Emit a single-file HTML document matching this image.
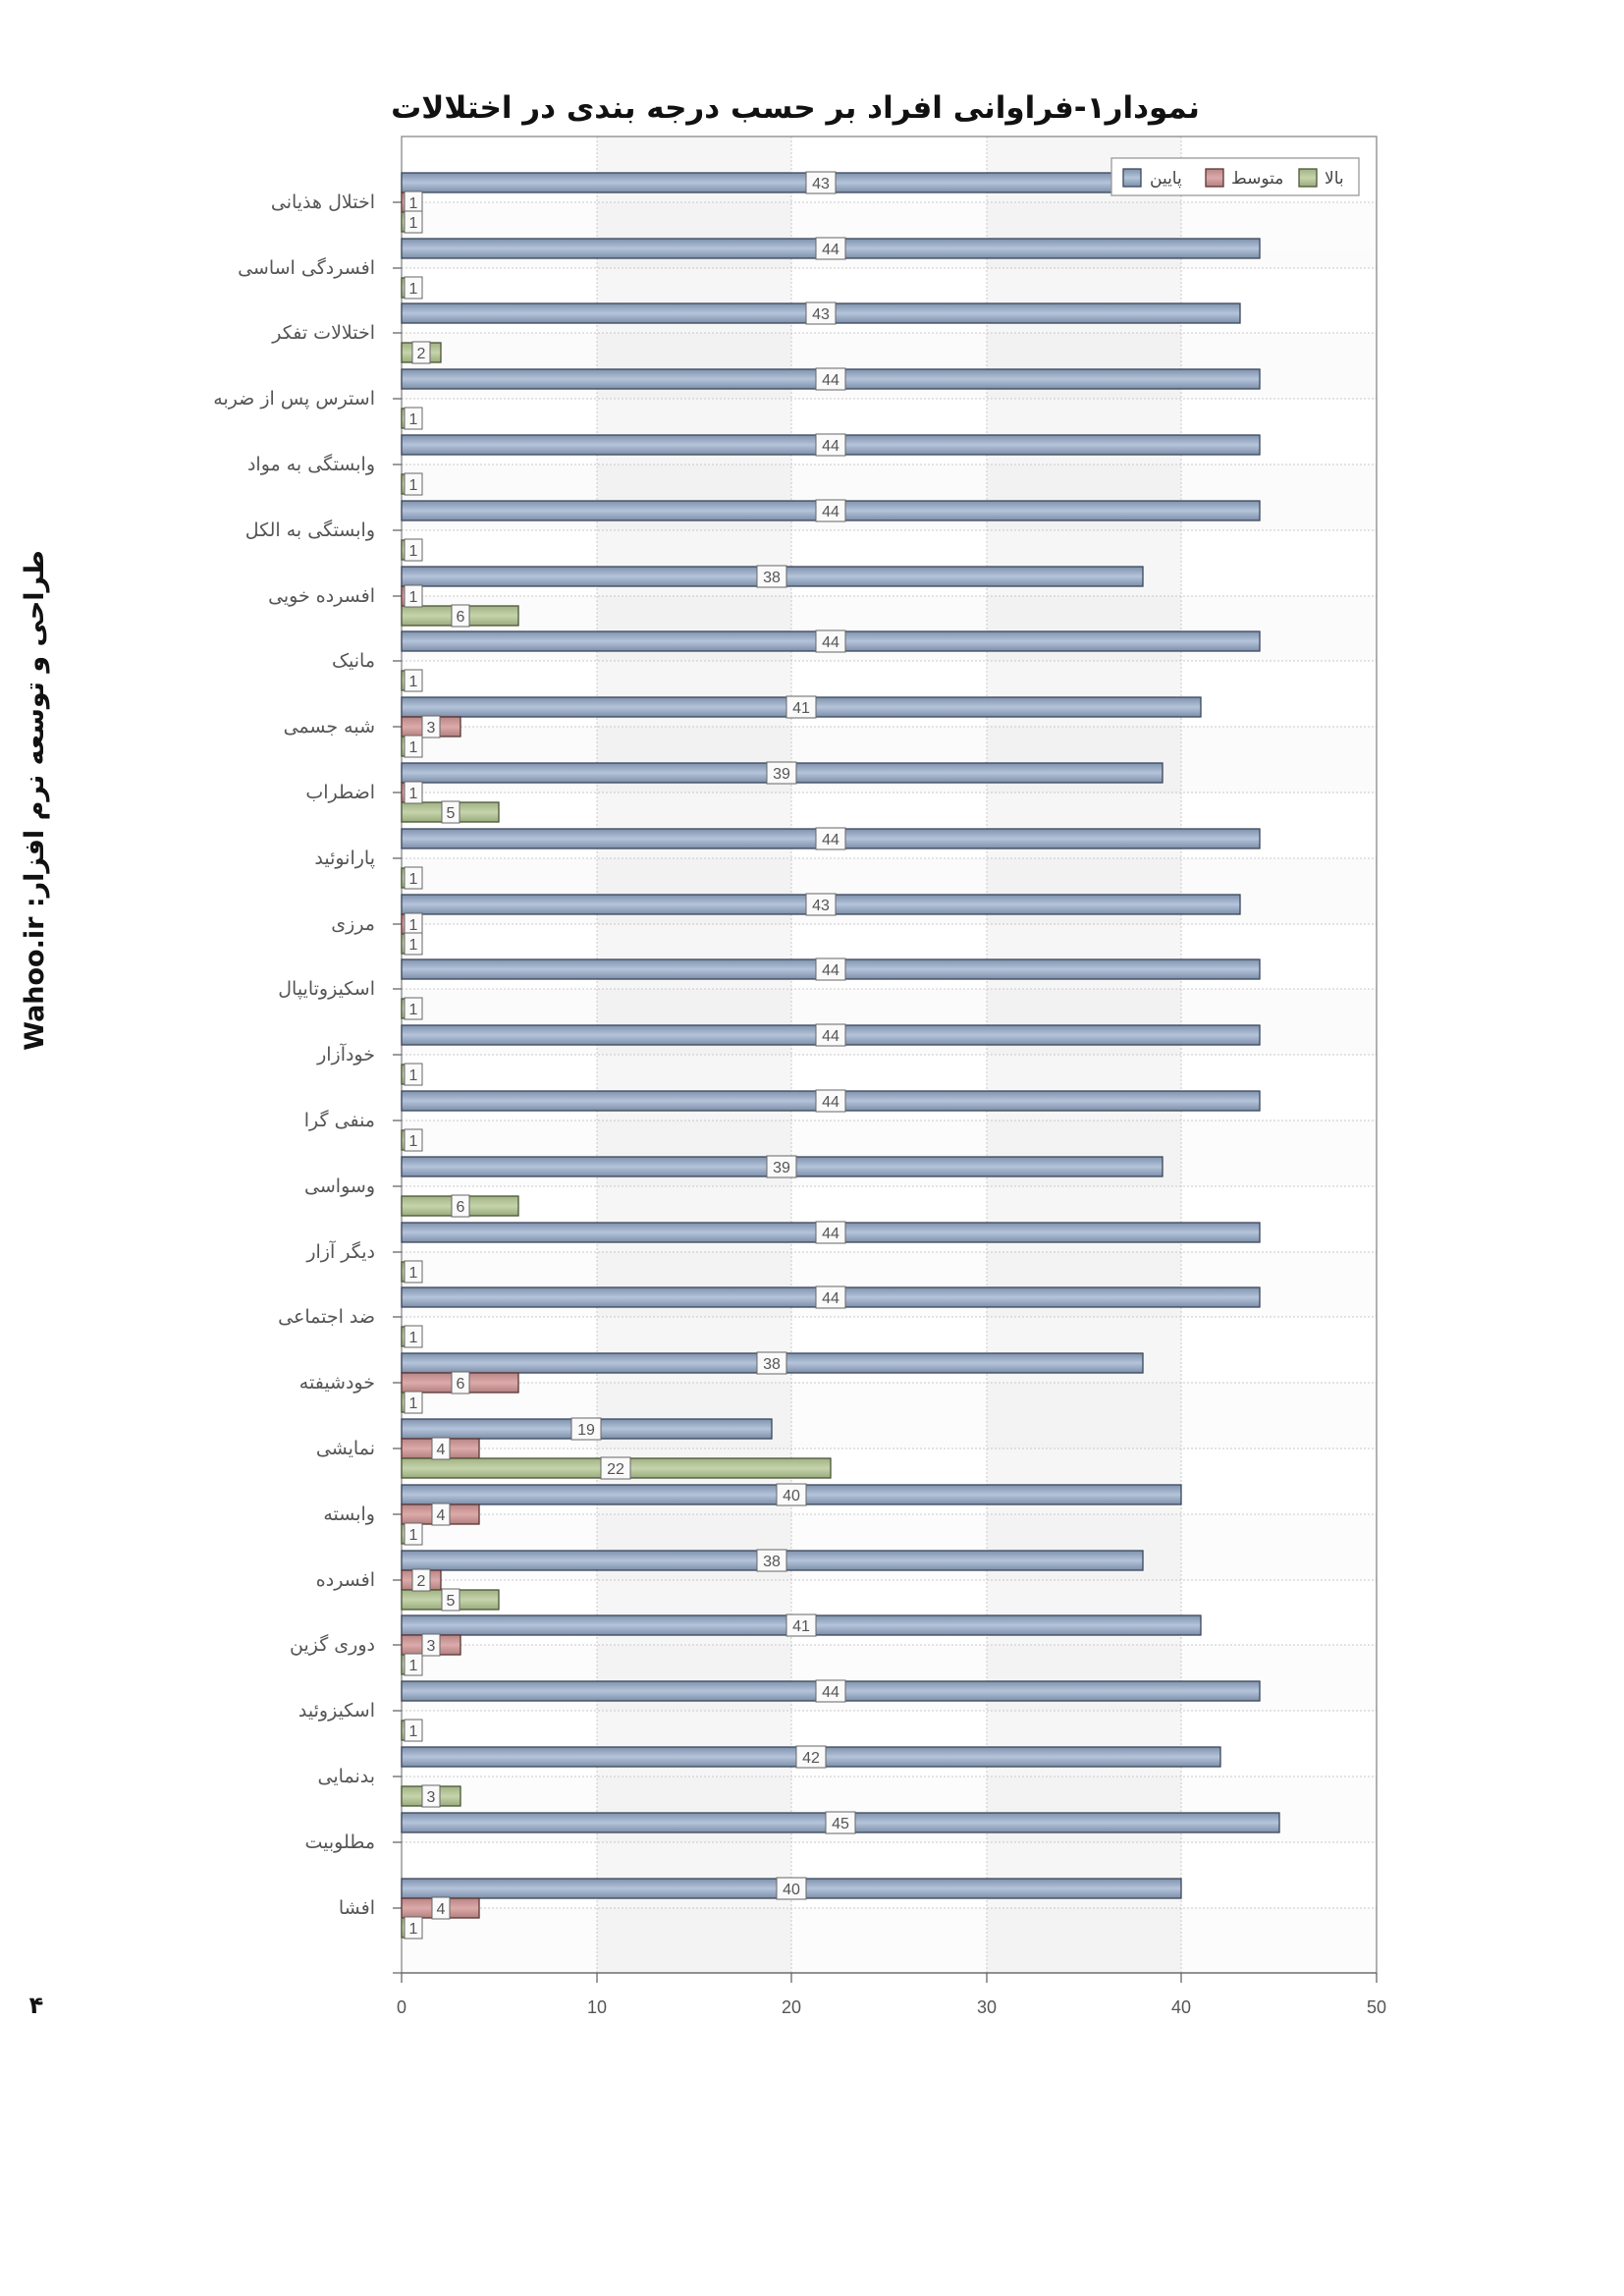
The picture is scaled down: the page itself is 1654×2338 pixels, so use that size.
<!DOCTYPE html>
<html><head><meta charset="utf-8"><style>
html,body{margin:0;padding:0;background:#fff;}
svg{display:block;}
.cat{font-family:"DejaVu Sans",sans-serif;font-size:19px;fill:#555;text-anchor:end;}
.b{fill:url(#gb);stroke:#3b475a;stroke-width:1.3;}
.r{fill:url(#gr);stroke:#5a3535;stroke-width:1.3;}
.g{fill:url(#gg);stroke:#4a5535;stroke-width:1.3;}
.lb rect{fill:#fafafa;stroke:#666;stroke-width:1;}
.lb text{font-family:"Liberation Sans",sans-serif;font-size:16px;fill:#555;text-anchor:middle;}
.ax{font-family:"Liberation Sans",sans-serif;font-size:18px;fill:#555;text-anchor:middle;}
</style></head><body>
<svg width="1654" height="2338" xmlns="http://www.w3.org/2000/svg">
<defs>
<linearGradient id="gb" x1="0" y1="0" x2="0" y2="1"><stop offset="0" stop-color="#7f91ad"/><stop offset="0.5" stop-color="#b4c4da"/><stop offset="1" stop-color="#7d8ea9"/></linearGradient>
<linearGradient id="gr" x1="0" y1="0" x2="0" y2="1"><stop offset="0" stop-color="#b98585"/><stop offset="0.5" stop-color="#dcaaaa"/><stop offset="1" stop-color="#b38080"/></linearGradient>
<linearGradient id="gg" x1="0" y1="0" x2="0" y2="1"><stop offset="0" stop-color="#a0b183"/><stop offset="0.5" stop-color="#c6d4ab"/><stop offset="1" stop-color="#9aab7e"/></linearGradient>
</defs>
<text x="810" y="120" font-family="DejaVu Sans,sans-serif" font-size="31" font-weight="bold" text-anchor="middle" fill="#111">نمودار۱-فراوانی افراد بر حسب درجه بندی در اختلالات</text>
<text transform="translate(44,815) rotate(-90)" direction="rtl" font-family="DejaVu Sans,Liberation Sans,sans-serif" font-size="27" font-weight="bold" text-anchor="middle" fill="#111">طراحی و توسعه نرم افزار: Wahoo.ir</text>
<text x="37" y="2050" font-family="DejaVu Sans,sans-serif" font-size="24" font-weight="bold" text-anchor="middle" fill="#111">۴</text>
<rect x="409" y="139" width="993" height="1870" fill="#fff"/>
<rect x="608" y="139" width="198" height="1870" fill="#f6f6f6"/>
<rect x="1005" y="139" width="198" height="1870" fill="#f6f6f6"/>
<g fill="#000" opacity="0.012">
<rect x="409" y="206" width="993" height="67"/><rect x="409" y="339" width="993" height="67"/><rect x="409" y="473" width="993" height="67"/><rect x="409" y="607" width="993" height="66"/><rect x="409" y="740" width="993" height="67"/><rect x="409" y="874" width="993" height="67"/><rect x="409" y="1007" width="993" height="67"/><rect x="409" y="1141" width="993" height="67"/><rect x="409" y="1275" width="993" height="66"/><rect x="409" y="1408" width="993" height="67"/><rect x="409" y="1542" width="993" height="67"/><rect x="409" y="1675" width="993" height="67"/><rect x="409" y="1809" width="993" height="67"/><rect x="409" y="1943" width="993" height="66"/>
</g>
<g stroke="#c8c8c8" stroke-width="1" stroke-dasharray="2,2">
<line x1="608" y1="139" x2="608" y2="2009"/><line x1="806" y1="139" x2="806" y2="2009"/><line x1="1005" y1="139" x2="1005" y2="2009"/><line x1="1203" y1="139" x2="1203" y2="2009"/>
<line x1="409" y1="206" x2="1402" y2="206"/><line x1="409" y1="273" x2="1402" y2="273"/><line x1="409" y1="339" x2="1402" y2="339"/><line x1="409" y1="406" x2="1402" y2="406"/><line x1="409" y1="473" x2="1402" y2="473"/><line x1="409" y1="540" x2="1402" y2="540"/><line x1="409" y1="607" x2="1402" y2="607"/><line x1="409" y1="673" x2="1402" y2="673"/><line x1="409" y1="740" x2="1402" y2="740"/><line x1="409" y1="807" x2="1402" y2="807"/><line x1="409" y1="874" x2="1402" y2="874"/><line x1="409" y1="941" x2="1402" y2="941"/><line x1="409" y1="1007" x2="1402" y2="1007"/><line x1="409" y1="1074" x2="1402" y2="1074"/><line x1="409" y1="1141" x2="1402" y2="1141"/><line x1="409" y1="1208" x2="1402" y2="1208"/><line x1="409" y1="1275" x2="1402" y2="1275"/><line x1="409" y1="1341" x2="1402" y2="1341"/><line x1="409" y1="1408" x2="1402" y2="1408"/><line x1="409" y1="1475" x2="1402" y2="1475"/><line x1="409" y1="1542" x2="1402" y2="1542"/><line x1="409" y1="1609" x2="1402" y2="1609"/><line x1="409" y1="1675" x2="1402" y2="1675"/><line x1="409" y1="1742" x2="1402" y2="1742"/><line x1="409" y1="1809" x2="1402" y2="1809"/><line x1="409" y1="1876" x2="1402" y2="1876"/><line x1="409" y1="1943" x2="1402" y2="1943"/>
</g>
<rect x="409" y="139" width="993" height="1870" fill="none" stroke="#888" stroke-width="1.3"/>
<g stroke="#666" stroke-width="1.3">
<line x1="400" y1="206" x2="409" y2="206"/><line x1="400" y1="273" x2="409" y2="273"/><line x1="400" y1="339" x2="409" y2="339"/><line x1="400" y1="406" x2="409" y2="406"/><line x1="400" y1="473" x2="409" y2="473"/><line x1="400" y1="540" x2="409" y2="540"/><line x1="400" y1="607" x2="409" y2="607"/><line x1="400" y1="673" x2="409" y2="673"/><line x1="400" y1="740" x2="409" y2="740"/><line x1="400" y1="807" x2="409" y2="807"/><line x1="400" y1="874" x2="409" y2="874"/><line x1="400" y1="941" x2="409" y2="941"/><line x1="400" y1="1007" x2="409" y2="1007"/><line x1="400" y1="1074" x2="409" y2="1074"/><line x1="400" y1="1141" x2="409" y2="1141"/><line x1="400" y1="1208" x2="409" y2="1208"/><line x1="400" y1="1275" x2="409" y2="1275"/><line x1="400" y1="1341" x2="409" y2="1341"/><line x1="400" y1="1408" x2="409" y2="1408"/><line x1="400" y1="1475" x2="409" y2="1475"/><line x1="400" y1="1542" x2="409" y2="1542"/><line x1="400" y1="1609" x2="409" y2="1609"/><line x1="400" y1="1675" x2="409" y2="1675"/><line x1="400" y1="1742" x2="409" y2="1742"/><line x1="400" y1="1809" x2="409" y2="1809"/><line x1="400" y1="1876" x2="409" y2="1876"/><line x1="400" y1="1943" x2="409" y2="1943"/>
<line x1="400" y1="2009" x2="1402" y2="2009"/>
<line x1="409" y1="2009" x2="409" y2="2019"/><line x1="608" y1="2009" x2="608" y2="2019"/><line x1="806" y1="2009" x2="806" y2="2019"/><line x1="1005" y1="2009" x2="1005" y2="2019"/><line x1="1203" y1="2009" x2="1203" y2="2019"/><line x1="1402" y1="2009" x2="1402" y2="2019"/>
</g>
<text class="ax" x="409" y="2050">0</text><text class="ax" x="608" y="2050">10</text><text class="ax" x="806" y="2050">20</text><text class="ax" x="1005" y="2050">30</text><text class="ax" x="1203" y="2050">40</text><text class="ax" x="1402" y="2050">50</text>

<g class="cat">
<text x="382" y="212">اختلال هذیانی</text>
<text x="382" y="279">افسردگی اساسی</text>
<text x="382" y="345">اختلالات تفکر</text>
<text x="382" y="412">استرس پس از ضربه</text>
<text x="382" y="479">وابستگی به مواد</text>
<text x="382" y="546">وابستگی به الکل</text>
<text x="382" y="613">افسرده خویی</text>
<text x="382" y="679">مانیک</text>
<text x="382" y="746">شبه جسمی</text>
<text x="382" y="813">اضطراب</text>
<text x="382" y="880">پارانوئید</text>
<text x="382" y="947">مرزی</text>
<text x="382" y="1013">اسکیزوتایپال</text>
<text x="382" y="1080">خودآزار</text>
<text x="382" y="1147">منفی گرا</text>
<text x="382" y="1214">وسواسی</text>
<text x="382" y="1281">دیگر آزار</text>
<text x="382" y="1347">ضد اجتماعی</text>
<text x="382" y="1414">خودشیفته</text>
<text x="382" y="1481">نمایشی</text>
<text x="382" y="1548">وابسته</text>
<text x="382" y="1615">افسرده</text>
<text x="382" y="1681">دوری گزین</text>
<text x="382" y="1748">اسکیزوئید</text>
<text x="382" y="1815">بدنمایی</text>
<text x="382" y="1882">مطلوبیت</text>
<text x="382" y="1949">افشا</text>
</g>

<g transform="translate(0,206)"><rect class="b" x="409" y="-30" width="854" height="20"/><rect class="r" x="409" y="-10" width="20" height="20"/><rect class="g" x="409" y="10" width="20" height="20"/>
<g class="lb" transform="translate(836,-20)"><rect x="-15" y="-11" width="30" height="22"/><text y="6">43</text></g>
<g class="lb" transform="translate(421,0)"><rect x="-9" y="-11" width="18" height="22"/><text y="6">1</text></g>
<g class="lb" transform="translate(421,20)"><rect x="-9" y="-11" width="18" height="22"/><text y="6">1</text></g></g>
<g transform="translate(0,273)"><rect class="b" x="409" y="-30" width="874" height="20"/><rect class="g" x="409" y="10" width="20" height="20"/>
<g class="lb" transform="translate(846,-20)"><rect x="-15" y="-11" width="30" height="22"/><text y="6">44</text></g>
<g class="lb" transform="translate(421,20)"><rect x="-9" y="-11" width="18" height="22"/><text y="6">1</text></g></g>
<g transform="translate(0,339)"><rect class="b" x="409" y="-30" width="854" height="20"/><rect class="g" x="409" y="10" width="40" height="20"/>
<g class="lb" transform="translate(836,-20)"><rect x="-15" y="-11" width="30" height="22"/><text y="6">43</text></g>
<g class="lb" transform="translate(429,20)"><rect x="-9" y="-11" width="18" height="22"/><text y="6">2</text></g></g>
<g transform="translate(0,406)"><rect class="b" x="409" y="-30" width="874" height="20"/><rect class="g" x="409" y="10" width="20" height="20"/>
<g class="lb" transform="translate(846,-20)"><rect x="-15" y="-11" width="30" height="22"/><text y="6">44</text></g>
<g class="lb" transform="translate(421,20)"><rect x="-9" y="-11" width="18" height="22"/><text y="6">1</text></g></g>
<g transform="translate(0,473)"><rect class="b" x="409" y="-30" width="874" height="20"/><rect class="g" x="409" y="10" width="20" height="20"/>
<g class="lb" transform="translate(846,-20)"><rect x="-15" y="-11" width="30" height="22"/><text y="6">44</text></g>
<g class="lb" transform="translate(421,20)"><rect x="-9" y="-11" width="18" height="22"/><text y="6">1</text></g></g>
<g transform="translate(0,540)"><rect class="b" x="409" y="-30" width="874" height="20"/><rect class="g" x="409" y="10" width="20" height="20"/>
<g class="lb" transform="translate(846,-20)"><rect x="-15" y="-11" width="30" height="22"/><text y="6">44</text></g>
<g class="lb" transform="translate(421,20)"><rect x="-9" y="-11" width="18" height="22"/><text y="6">1</text></g></g>
<g transform="translate(0,607)"><rect class="b" x="409" y="-30" width="755" height="20"/><rect class="r" x="409" y="-10" width="20" height="20"/><rect class="g" x="409" y="10" width="119" height="20"/>
<g class="lb" transform="translate(786,-20)"><rect x="-15" y="-11" width="30" height="22"/><text y="6">38</text></g>
<g class="lb" transform="translate(421,0)"><rect x="-9" y="-11" width="18" height="22"/><text y="6">1</text></g>
<g class="lb" transform="translate(469,20)"><rect x="-9" y="-11" width="18" height="22"/><text y="6">6</text></g></g>
<g transform="translate(0,673)"><rect class="b" x="409" y="-30" width="874" height="20"/><rect class="g" x="409" y="10" width="20" height="20"/>
<g class="lb" transform="translate(846,-20)"><rect x="-15" y="-11" width="30" height="22"/><text y="6">44</text></g>
<g class="lb" transform="translate(421,20)"><rect x="-9" y="-11" width="18" height="22"/><text y="6">1</text></g></g>
<g transform="translate(0,740)"><rect class="b" x="409" y="-30" width="814" height="20"/><rect class="r" x="409" y="-10" width="60" height="20"/><rect class="g" x="409" y="10" width="20" height="20"/>
<g class="lb" transform="translate(816,-20)"><rect x="-15" y="-11" width="30" height="22"/><text y="6">41</text></g>
<g class="lb" transform="translate(439,0)"><rect x="-9" y="-11" width="18" height="22"/><text y="6">3</text></g>
<g class="lb" transform="translate(421,20)"><rect x="-9" y="-11" width="18" height="22"/><text y="6">1</text></g></g>
<g transform="translate(0,807)"><rect class="b" x="409" y="-30" width="775" height="20"/><rect class="r" x="409" y="-10" width="20" height="20"/><rect class="g" x="409" y="10" width="99" height="20"/>
<g class="lb" transform="translate(796,-20)"><rect x="-15" y="-11" width="30" height="22"/><text y="6">39</text></g>
<g class="lb" transform="translate(421,0)"><rect x="-9" y="-11" width="18" height="22"/><text y="6">1</text></g>
<g class="lb" transform="translate(459,20)"><rect x="-9" y="-11" width="18" height="22"/><text y="6">5</text></g></g>
<g transform="translate(0,874)"><rect class="b" x="409" y="-30" width="874" height="20"/><rect class="g" x="409" y="10" width="20" height="20"/>
<g class="lb" transform="translate(846,-20)"><rect x="-15" y="-11" width="30" height="22"/><text y="6">44</text></g>
<g class="lb" transform="translate(421,20)"><rect x="-9" y="-11" width="18" height="22"/><text y="6">1</text></g></g>
<g transform="translate(0,941)"><rect class="b" x="409" y="-30" width="854" height="20"/><rect class="r" x="409" y="-10" width="20" height="20"/><rect class="g" x="409" y="10" width="20" height="20"/>
<g class="lb" transform="translate(836,-20)"><rect x="-15" y="-11" width="30" height="22"/><text y="6">43</text></g>
<g class="lb" transform="translate(421,0)"><rect x="-9" y="-11" width="18" height="22"/><text y="6">1</text></g>
<g class="lb" transform="translate(421,20)"><rect x="-9" y="-11" width="18" height="22"/><text y="6">1</text></g></g>
<g transform="translate(0,1007)"><rect class="b" x="409" y="-30" width="874" height="20"/><rect class="g" x="409" y="10" width="20" height="20"/>
<g class="lb" transform="translate(846,-20)"><rect x="-15" y="-11" width="30" height="22"/><text y="6">44</text></g>
<g class="lb" transform="translate(421,20)"><rect x="-9" y="-11" width="18" height="22"/><text y="6">1</text></g></g>
<g transform="translate(0,1074)"><rect class="b" x="409" y="-30" width="874" height="20"/><rect class="g" x="409" y="10" width="20" height="20"/>
<g class="lb" transform="translate(846,-20)"><rect x="-15" y="-11" width="30" height="22"/><text y="6">44</text></g>
<g class="lb" transform="translate(421,20)"><rect x="-9" y="-11" width="18" height="22"/><text y="6">1</text></g></g>
<g transform="translate(0,1141)"><rect class="b" x="409" y="-30" width="874" height="20"/><rect class="g" x="409" y="10" width="20" height="20"/>
<g class="lb" transform="translate(846,-20)"><rect x="-15" y="-11" width="30" height="22"/><text y="6">44</text></g>
<g class="lb" transform="translate(421,20)"><rect x="-9" y="-11" width="18" height="22"/><text y="6">1</text></g></g>
<g transform="translate(0,1208)"><rect class="b" x="409" y="-30" width="775" height="20"/><rect class="g" x="409" y="10" width="119" height="20"/>
<g class="lb" transform="translate(796,-20)"><rect x="-15" y="-11" width="30" height="22"/><text y="6">39</text></g>
<g class="lb" transform="translate(469,20)"><rect x="-9" y="-11" width="18" height="22"/><text y="6">6</text></g></g>
<g transform="translate(0,1275)"><rect class="b" x="409" y="-30" width="874" height="20"/><rect class="g" x="409" y="10" width="20" height="20"/>
<g class="lb" transform="translate(846,-20)"><rect x="-15" y="-11" width="30" height="22"/><text y="6">44</text></g>
<g class="lb" transform="translate(421,20)"><rect x="-9" y="-11" width="18" height="22"/><text y="6">1</text></g></g>
<g transform="translate(0,1341)"><rect class="b" x="409" y="-30" width="874" height="20"/><rect class="g" x="409" y="10" width="20" height="20"/>
<g class="lb" transform="translate(846,-20)"><rect x="-15" y="-11" width="30" height="22"/><text y="6">44</text></g>
<g class="lb" transform="translate(421,20)"><rect x="-9" y="-11" width="18" height="22"/><text y="6">1</text></g></g>
<g transform="translate(0,1408)"><rect class="b" x="409" y="-30" width="755" height="20"/><rect class="r" x="409" y="-10" width="119" height="20"/><rect class="g" x="409" y="10" width="20" height="20"/>
<g class="lb" transform="translate(786,-20)"><rect x="-15" y="-11" width="30" height="22"/><text y="6">38</text></g>
<g class="lb" transform="translate(469,0)"><rect x="-9" y="-11" width="18" height="22"/><text y="6">6</text></g>
<g class="lb" transform="translate(421,20)"><rect x="-9" y="-11" width="18" height="22"/><text y="6">1</text></g></g>
<g transform="translate(0,1475)"><rect class="b" x="409" y="-30" width="377" height="20"/><rect class="r" x="409" y="-10" width="79" height="20"/><rect class="g" x="409" y="10" width="437" height="20"/>
<g class="lb" transform="translate(597,-20)"><rect x="-15" y="-11" width="30" height="22"/><text y="6">19</text></g>
<g class="lb" transform="translate(449,0)"><rect x="-9" y="-11" width="18" height="22"/><text y="6">4</text></g>
<g class="lb" transform="translate(627,20)"><rect x="-15" y="-11" width="30" height="22"/><text y="6">22</text></g></g>
<g transform="translate(0,1542)"><rect class="b" x="409" y="-30" width="794" height="20"/><rect class="r" x="409" y="-10" width="79" height="20"/><rect class="g" x="409" y="10" width="20" height="20"/>
<g class="lb" transform="translate(806,-20)"><rect x="-15" y="-11" width="30" height="22"/><text y="6">40</text></g>
<g class="lb" transform="translate(449,0)"><rect x="-9" y="-11" width="18" height="22"/><text y="6">4</text></g>
<g class="lb" transform="translate(421,20)"><rect x="-9" y="-11" width="18" height="22"/><text y="6">1</text></g></g>
<g transform="translate(0,1609)"><rect class="b" x="409" y="-30" width="755" height="20"/><rect class="r" x="409" y="-10" width="40" height="20"/><rect class="g" x="409" y="10" width="99" height="20"/>
<g class="lb" transform="translate(786,-20)"><rect x="-15" y="-11" width="30" height="22"/><text y="6">38</text></g>
<g class="lb" transform="translate(429,0)"><rect x="-9" y="-11" width="18" height="22"/><text y="6">2</text></g>
<g class="lb" transform="translate(459,20)"><rect x="-9" y="-11" width="18" height="22"/><text y="6">5</text></g></g>
<g transform="translate(0,1675)"><rect class="b" x="409" y="-30" width="814" height="20"/><rect class="r" x="409" y="-10" width="60" height="20"/><rect class="g" x="409" y="10" width="20" height="20"/>
<g class="lb" transform="translate(816,-20)"><rect x="-15" y="-11" width="30" height="22"/><text y="6">41</text></g>
<g class="lb" transform="translate(439,0)"><rect x="-9" y="-11" width="18" height="22"/><text y="6">3</text></g>
<g class="lb" transform="translate(421,20)"><rect x="-9" y="-11" width="18" height="22"/><text y="6">1</text></g></g>
<g transform="translate(0,1742)"><rect class="b" x="409" y="-30" width="874" height="20"/><rect class="g" x="409" y="10" width="20" height="20"/>
<g class="lb" transform="translate(846,-20)"><rect x="-15" y="-11" width="30" height="22"/><text y="6">44</text></g>
<g class="lb" transform="translate(421,20)"><rect x="-9" y="-11" width="18" height="22"/><text y="6">1</text></g></g>
<g transform="translate(0,1809)"><rect class="b" x="409" y="-30" width="834" height="20"/><rect class="g" x="409" y="10" width="60" height="20"/>
<g class="lb" transform="translate(826,-20)"><rect x="-15" y="-11" width="30" height="22"/><text y="6">42</text></g>
<g class="lb" transform="translate(439,20)"><rect x="-9" y="-11" width="18" height="22"/><text y="6">3</text></g></g>
<g transform="translate(0,1876)"><rect class="b" x="409" y="-30" width="894" height="20"/>
<g class="lb" transform="translate(856,-20)"><rect x="-15" y="-11" width="30" height="22"/><text y="6">45</text></g></g>
<g transform="translate(0,1943)"><rect class="b" x="409" y="-30" width="794" height="20"/><rect class="r" x="409" y="-10" width="79" height="20"/><rect class="g" x="409" y="10" width="20" height="20"/>
<g class="lb" transform="translate(806,-20)"><rect x="-15" y="-11" width="30" height="22"/><text y="6">40</text></g>
<g class="lb" transform="translate(449,0)"><rect x="-9" y="-11" width="18" height="22"/><text y="6">4</text></g>
<g class="lb" transform="translate(421,20)"><rect x="-9" y="-11" width="18" height="22"/><text y="6">1</text></g></g>

<rect x="1132" y="161" width="252" height="38" fill="#fff" stroke="#999" stroke-width="1.3"/>
<rect x="1144" y="172" width="18" height="18" class="b"/>
<text x="1171" y="187" font-family="DejaVu Sans,sans-serif" font-size="17" fill="#444">پایین</text>
<rect x="1228" y="172" width="18" height="18" class="r"/>
<text x="1254" y="187" font-family="DejaVu Sans,sans-serif" font-size="17" fill="#444">متوسط</text>
<rect x="1323" y="172" width="18" height="18" class="g"/>
<text x="1349" y="187" font-family="DejaVu Sans,sans-serif" font-size="17" fill="#444">بالا</text>
</svg>
</body></html>
